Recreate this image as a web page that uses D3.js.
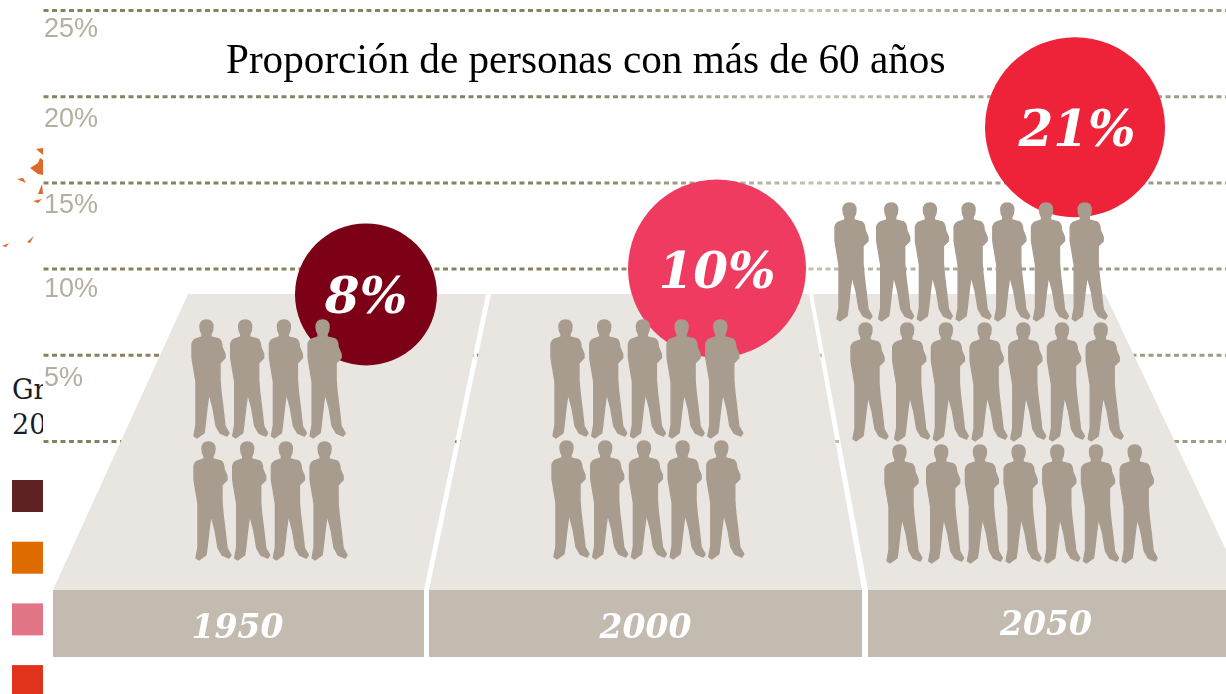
<!DOCTYPE html>
<html>
<head>
<meta charset="utf-8">
<script src="https://cdn.jsdelivr.net/npm/d3@7"></script>
<style>
  html, body { margin: 0; padding: 0; background: #fff; overflow: hidden; }
  svg { display: block; }
</style>
</head>
<body>
<div id="chart"></div>
<script>
// values
var titleText = "Proporción de personas con más de 60 años";
var years = [1950, 2000, 2050];
var shares = [8, 10, 21];            // % over 60, one figure per point
var rowsPerYear = [2, 2, 3];
var bubbleLevels = [8.5, 10, 18.2];  // bubbles float at these heights on the axis
var axisTicks = [0, 5, 10, 15, 20, 25];
var legendColors = ["#5e2020", "#df6c00", "#e37589", "#e1301c"];
var legendStubs = ["Gr", "20"];

var width = 1226, height = 694;

var bubbleColors = ["#7c0018", "#f03a60", "#ee2038"];
var bubbleRadius = [71, 89, 90];

// platforms, one per year: top left, top right, front left, front right
var platforms = [
  {tl: 188, tr: 486, fl: 53, fr: 424},
  {tl: 491, tr: 809, fl: 429, fr: 862},
  {tl: 813, tr: 1105, fl: 868, fr: 1245}
];
var platformTop = 294, platformFront = 590, platformBottom = 657;

// rows of figures, front to back: left edge and top of the row
var rowLayout = [
  [{x: 192, y: 320}, {x: 194, y: 442}],
  [{x: 551, y: 320}, {x: 552, y: 441}],
  [{x: 835, y: 203}, {x: 851, y: 323}, {x: 885, y: 445}]
];
var figureStep = 38.7;

// the tick labels do not sit at an even distance under their lines
var labelDrop = {25: 26, 20: 30, 15: 30, 10: 28, 5: 31, 0: 26};

var svg = d3.select("#chart").append("svg")
    .attr("width", width)
    .attr("height", height);

var defs = svg.append("defs");

// the source is a soft raster, so most marks get a slight blur
defs.append("filter")
    .attr("id", "soft")
    .attr("filterUnits", "userSpaceOnUse")
    .attr("x", 0).attr("y", 0).attr("width", width).attr("height", height)
    .append("feGaussianBlur")
    .attr("stdDeviation", 0.6);

// gridlines are heavy on the left, faint through the middle, medium on the right
var fade = defs.append("linearGradient")
    .attr("id", "grid-fade")
    .attr("gradientUnits", "userSpaceOnUse")
    .attr("x1", 0).attr("x2", width - 43)
    .attr("y1", 0).attr("y2", 0);
fade.append("stop").attr("offset", "0%").attr("stop-color", "#87825f");
fade.append("stop").attr("offset", "45%").attr("stop-color", "#87825f");
fade.append("stop").attr("offset", "65%").attr("stop-color", "#c4c1ae");
fade.append("stop").attr("offset", "85%").attr("stop-color", "#a09c82");
fade.append("stop").attr("offset", "100%").attr("stop-color", "#a09c82");

var y = d3.scaleLinear().domain([0, 25]).range([441, 10]);
var x = d3.scaleLinear().domain(years).range([366, 717, 1075]);

// clipped legend on the far left, hidden behind the white chart panel
var legend = svg.append("g").attr("filter", "url(#soft)");
legend.selectAll("rect")
    .data(legendColors)
    .enter()
    .append("rect")
    .attr("x", 12)
    .attr("y", function(d, i) { return 480 + i * 61.7; })
    .attr("width", 31)
    .attr("height", 32)
    .style("fill", function(d) { return d; });

var clip = defs.append("clipPath").attr("id", "left-clip");
clip.append("rect").attr("x", 0).attr("y", 0).attr("width", 43).attr("height", height);

svg.append("g")
    .attr("clip-path", "url(#left-clip)")
    .selectAll("text")
    .data(legendStubs)
    .enter()
    .append("text")
    .attr("x", 12)
    .attr("y", function(d, i) { return 399 + i * 35; })
    .style("font-family", "'DejaVu Serif', serif")
    .style("font-size", "27px")
    .style("fill", "#1a1a2a")
    .text(function(d) { return d; });

// bits of the orange map that stick out on the left
var scraps = [
  "M36,149 L43,148 L43,155 Z",
  "M30,168 L38,163 L40,158 L43,160 L43,175 L38,174 Z",
  "M17,179 L23,178 L26,183 Z",
  "M38,194 L42,184 L43,194 Z",
  "M33,201 L42,199 L38,203 Z",
  "M27,242 L34,236 L30,243 Z",
  "M2,246 L9,243 L6,247 Z"
];
svg.append("g").selectAll("path")
    .data(scraps)
    .enter()
    .append("path")
    .attr("d", function(d) { return d; })
    .style("fill", "#e0682a");

// gridlines with the labels sitting under them
var axisWrap = svg.append("g").attr("filter", "url(#soft)");
var axis = axisWrap.append("g")
    .attr("transform", "translate(43,0)")
    .call(d3.axisRight(y)
      .tickValues(axisTicks)
      .tickSize(width - 43)
      .tickFormat(function(d) { return d ? d + "%" : ""; }));
axis.select(".domain").remove();
axis.selectAll("line")
    .style("stroke", "url(#grid-fade)")
    .style("stroke-width", 3)
    .style("stroke-dasharray", "5 3.5")
    .attr("x1", 0.5);
axis.selectAll("text")
    .attr("x", 1)
    .attr("y", function(d) { return labelDrop[d]; })
    .attr("dy", 0)
    .style("text-anchor", "start")
    .style("font-family", "'Liberation Sans', sans-serif")
    .style("font-size", "27px")
    .style("fill", "#b4afa0");

svg.append("text")
    .attr("x", 226)
    .attr("y", 73)
    .style("font-family", "'Liberation Serif', serif")
    .style("font-size", "41.2px")
    .style("fill", "#000")
    .text(titleText);

// platforms
var ground = svg.append("g").attr("filter", "url(#soft)");
ground.selectAll(".top")
    .data(platforms)
    .enter()
    .append("path")
    .attr("class", "top")
    .attr("d", function(d) {
      return "M" + d.tl + "," + platformTop + "L" + d.tr + "," + platformTop +
             "L" + d.fr + "," + platformFront + "L" + d.fl + "," + platformFront + "Z";
    })
    .style("fill", "#e9e6e1");

ground.selectAll(".front")
    .data(platforms)
    .enter()
    .append("rect")
    .attr("class", "front")
    .attr("x", function(d) { return d.fl; })
    .attr("y", platformFront)
    .attr("width", function(d) { return d.fr - d.fl; })
    .attr("height", platformBottom - platformFront)
    .style("fill", "#c3bab0");

ground.selectAll(".year")
    .data(years)
    .enter()
    .append("text")
    .attr("class", "year")
    .attr("x", function(d, i) { return (Math.min(platforms[i].fr, width) + platforms[i].fl) / 2 + [-1, 0, -1][i]; })
    .attr("y", function(d, i) { return [638, 638, 635][i]; })
    .style("text-anchor", "middle")
    .style("font-family", "'DejaVu Serif', serif")
    .style("font-weight", "bold")
    .style("font-style", "italic")
    .style("font-size", "33px")
    .style("fill", "#fff")
    .text(function(d) { return d; });

// bubbles, the filter sits on the wrapper because its region is in user space
var bubbles = svg.append("g")
    .attr("filter", "url(#soft)")
    .selectAll(".bubble")
    .data(shares)
    .enter()
    .append("g")
    .attr("class", "bubble")
    .attr("transform", function(d, i) { return "translate(" + x(years[i]) + "," + y(bubbleLevels[i]) + ")"; });

bubbles.append("circle")
    .attr("r", function(d, i) { return bubbleRadius[i]; })
    .style("fill", function(d, i) { return bubbleColors[i]; });

bubbles.append("text")
    .attr("x", function(d, i) { return [0, 0, 2][i]; })
    .attr("y", 19)
    .style("text-anchor", "middle")
    .style("font-family", "'DejaVu Serif', serif")
    .style("font-weight", "bold")
    .style("font-style", "italic")
    .style("font-size", "50px")
    .style("fill", "#fff")
    .text(function(d) { return d + "%"; });

// one silhouette per percentage point
var personPath = "M8,7 Q8,0 14.5,0 Q21,0 21,7 Q21,11 19,14 L19,17 L27,19 Q30,21 30,27 L33,34 L33,38 L28,43 " +
  "L28,60 L29,72 L31,88 L33,106 L37,113 L35,116 L28,113 L24,106 L21,88 L17,73 L15,88 L13,106 L12,113 L5,118 " +
  "L2,116 L4,105 L4,85 L4,62 L2,50 L0,38 L0,24 Q1,20 4,19 L10,17 L10,14 Q8,11 8,7 Z";

var people = svg.append("g").attr("filter", "url(#soft)");
shares.forEach(function(share, i) {
  var perRow = share / rowsPerYear[i];
  rowLayout[i].forEach(function(row) {
    people.append("g")
        .selectAll("path")
        .data(d3.range(perRow))
        .enter()
        .append("path")
        .attr("d", personPath)
        .attr("transform", function(k) {
          // the back platform has a wider first gap
          var gap = (i == 2 && k > 0) ? 3 : 0;
          return "translate(" + (row.x + k * figureStep + gap) + "," + row.y + ")";
        })
        .style("fill", "#a89c8f")
        .style("stroke", "#a89c8f")
        .style("stroke-width", 1.4)
        .style("stroke-linejoin", "round");
  });
});
</script>
</body>
</html>
